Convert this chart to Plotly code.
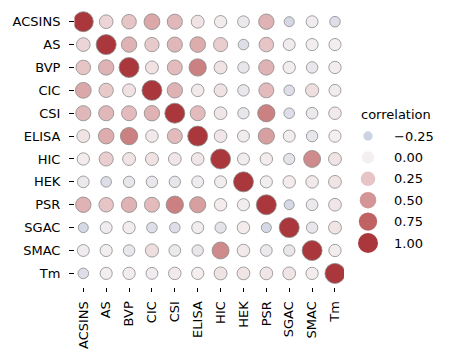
import numpy as np
import plotly.graph_objects as go

labels = ["ACSINS", "AS", "BVP", "CIC", "CSI", "ELISA", "HIC", "HEK", "PSR", "SGAC", "SMAC", "Tm"]

corr = [
    [1.00, 0.15, 0.25, 0.40, 0.32, 0.07, 0.01, -0.05, 0.35, -0.20, -0.03, -0.15],
    [0.15, 1.00, 0.35, 0.22, 0.32, 0.38, 0.20, -0.15, 0.25, -0.03, -0.01, -0.01],
    [0.25, 0.35, 1.00, 0.08, 0.30, 0.60, 0.07, -0.08, 0.35, 0.01, -0.07, 0.01],
    [0.40, 0.22, 0.08, 1.00, 0.35, 0.03, 0.08, -0.07, 0.30, -0.15, 0.10, -0.03],
    [0.32, 0.32, 0.30, 0.35, 1.00, 0.30, 0.05, -0.08, 0.60, -0.15, -0.05, 0.03],
    [0.07, 0.38, 0.60, 0.03, 0.30, 1.00, 0.05, -0.03, 0.45, -0.02, -0.08, 0.00],
    [0.01, 0.20, 0.07, 0.08, 0.05, 0.05, 1.00, -0.02, 0.02, -0.10, 0.55, 0.07],
    [-0.05, -0.15, -0.08, -0.07, -0.08, -0.03, -0.02, 1.00, -0.01, 0.02, 0.03, 0.06],
    [0.35, 0.25, 0.35, 0.30, 0.60, 0.45, 0.02, -0.01, 1.00, -0.20, -0.05, 0.05],
    [-0.20, -0.03, 0.01, -0.15, -0.15, -0.02, -0.10, 0.02, -0.20, 1.00, -0.08, 0.06],
    [-0.03, -0.01, -0.07, 0.10, -0.05, -0.08, 0.55, 0.03, -0.05, -0.08, 1.00, 0.01],
    [-0.15, -0.01, 0.01, -0.03, 0.03, 0.00, 0.07, 0.06, 0.05, 0.06, 0.01, 1.00],
]

legend_levels = [-0.25, 0.00, 0.25, 0.50, 0.75, 1.00]
legend_texts = ["\u22120.25", "0.00", "0.25", "0.50", "0.75", "1.00"]

# approximate seaborn "vlag" colormap on [-1, 1]
vlag = [
    [0.0, "#2369bd"],
    [0.25, "#8fa3cc"],
    [0.375, "#cdd3e3"],
    [0.5, "#f4eeef"],
    [0.625, "#e7c5c6"],
    [0.75, "#d39596"],
    [0.875, "#c06264"],
    [1.0, "#a9373b"],
]


def diam(r):
    return np.sqrt(100 + 250 * (np.asarray(r) + 0.2))


C = np.array(corr)
n = len(labels)
xi, yi = np.meshgrid(np.arange(n), np.arange(n))
xs = xi.ravel()
ys = yi.ravel()
vals = C.ravel()

W, H = 449, 358
font = dict(family="DejaVu Sans", size=13, color="black")

fig = go.Figure()
fig.add_trace(go.Scatter(
    x=xs, y=ys, mode="markers",
    marker=dict(size=diam(vals), color=vals, colorscale=vlag, cmin=-1, cmax=1, opacity=1,
                line=dict(color="#8a8a8a", width=0.8)),
    xaxis="x", yaxis="y", showlegend=False, hoverinfo="skip",
))

# legend drawn on its own axes
li = np.arange(len(legend_levels))
fig.add_trace(go.Scatter(
    x=np.zeros(len(li)), y=li, mode="markers",
    marker=dict(size=diam(legend_levels), color=legend_levels, colorscale=vlag,
                cmin=-1, cmax=1, opacity=1, line=dict(width=0)),
    xaxis="x2", yaxis="y2", showlegend=False, hoverinfo="skip",
))
for i, t in enumerate(legend_texts):
    fig.add_annotation(x=25, y=i, xref="x2", yref="y2", text=t, showarrow=False,
                       xanchor="left", yanchor="middle", font=font, borderpad=0)
fig.add_annotation(x=-8, y=-1, xref="x2", yref="y2", text="correlation", showarrow=False,
                   xanchor="left", yanchor="middle", font=font, borderpad=0)

sp = 22.88
x_left, x_right = 74.5, 344.0
y_top, y_bot = 7.9, 286.5
x0c, y0c = 83.3, 21.7

fig.update_layout(
    width=W, height=H, margin=dict(l=0, r=0, t=0, b=0),
    paper_bgcolor="white", plot_bgcolor="white", font=font,
    xaxis=dict(domain=[x_left / W, x_right / W],
               range=[-(x0c - x_left) / sp, (x_right - x0c) / sp],
               tickmode="array", tickvals=list(range(n)), ticktext=labels,
               tickangle=-90, ticks="outside", ticklen=4.5, tickwidth=1, tickcolor="black",
               tickfont=font,
               showgrid=False, zeroline=False, showline=False, ticklabelstandoff=4),
    yaxis=dict(domain=[1 - y_bot / H, 1 - y_top / H],
               range=[(y_bot - y0c) / sp, -(y0c - y_top) / sp],
               tickmode="array", tickvals=list(range(n)), ticktext=labels,
               ticks="outside", ticklen=4.5, tickwidth=1, tickcolor="black",
               tickfont=font,
               showgrid=False, zeroline=False, showline=False, ticklabelstandoff=6),
    xaxis2=dict(domain=[350 / W, 1], range=[350 - 368, W - 368], visible=False, fixedrange=True),
    yaxis2=dict(domain=[0, 1], range=[(H - 136) / 21.4, (0 - 136) / 21.4], visible=False,
                fixedrange=True),
)

fig.write_html("out.html", config={"displayModeBar": False},
               post_script="document.body.style.margin='0px';")
